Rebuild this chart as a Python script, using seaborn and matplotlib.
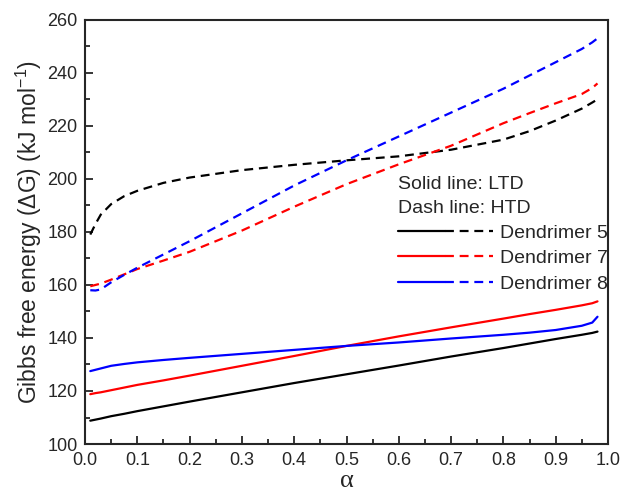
import pandas as pd
import matplotlib.pyplot as plt
import seaborn as sns
from matplotlib.lines import Line2D
from matplotlib.legend_handler import HandlerTuple
from matplotlib.ticker import MultipleLocator

# alpha grid and Gibbs free energy (kJ/mol)
alpha = [0.01, 0.02, 0.03, 0.05, 0.075, 0.1, 0.15, 0.2, 0.3, 0.4, 0.5,
         0.6, 0.7, 0.8, 0.85, 0.9, 0.95, 0.97, 0.98]

ltd_d5 = [108.8, 109.2, 109.6, 110.5, 111.4, 112.4, 114.2, 116.0, 119.5, 123.0, 126.3,
          129.6, 133.0, 136.2, 137.9, 139.6, 141.2, 141.9, 142.4]
ltd_d7 = [118.8, 119.2, 119.5, 120.3, 121.3, 122.3, 124.0, 125.8, 129.5, 133.2, 137.0,
          140.6, 144.0, 147.3, 149.0, 150.6, 152.3, 153.1, 153.8]
ltd_d8 = [127.5, 128.0, 128.5, 129.5, 130.2, 130.8, 131.7, 132.5, 134.0, 135.5, 137.0,
          138.3, 139.8, 141.2, 142.0, 143.0, 144.6, 145.8, 148.0]

htd_d5 = [179.0, 183.0, 186.5, 190.5, 193.5, 195.5, 198.5, 200.5, 203.3, 205.3, 207.0,
          208.5, 211.0, 214.8, 218.0, 222.0, 226.5, 228.8, 230.0]
htd_d7 = [159.5, 160.0, 160.5, 162.0, 164.0, 166.0, 169.2, 172.5, 180.5, 189.5, 198.0,
          205.5, 212.5, 221.0, 224.8, 228.5, 232.0, 234.3, 236.0]
htd_d8 = [158.0, 157.9, 158.3, 161.0, 163.8, 166.5, 171.5, 176.5, 187.0, 197.5, 207.0,
          216.0, 225.0, 234.0, 239.0, 244.0, 249.0, 251.5, 253.0]

names = ["Dendrimer 5", "Dendrimer 7", "Dendrimer 8"]
colors = ["black", "red", "blue"]

frames = []
for name, ltd, htd in zip(names, [ltd_d5, ltd_d7, ltd_d8], [htd_d5, htd_d7, htd_d8]):
    frames.append(pd.DataFrame({"alpha": alpha, "dG": ltd, "sample": name, "kind": "LTD"}))
    frames.append(pd.DataFrame({"alpha": alpha, "dG": htd, "sample": name, "kind": "HTD"}))
df = pd.concat(frames, ignore_index=True)

sns.set_style("ticks")
plt.rcParams["font.family"] = ["Liberation Sans", "DejaVu Sans"]
plt.rcParams["mathtext.fontset"] = "custom"
plt.rcParams["mathtext.rm"] = "Liberation Sans"

fig = plt.figure(figsize=(6.3, 4.95), dpi=100)
ax = fig.add_axes([0.135, 0.103, 0.83, 0.857])

sns.lineplot(data=df, x="alpha", y="dG", hue="sample", style="kind",
             palette=dict(zip(names, colors)),
             dashes={"LTD": "", "HTD": (4, 2.6)},
             linewidth=1.6, legend=False, ax=ax)

ax.set_xlim(0, 1.0)
ax.set_ylim(100, 260)
ax.xaxis.set_major_locator(MultipleLocator(0.1))
ax.xaxis.set_minor_locator(MultipleLocator(0.05))
ax.yaxis.set_major_locator(MultipleLocator(20))
ax.yaxis.set_minor_locator(MultipleLocator(10))
ax.tick_params(which="both", direction="in", top=False, right=False, labelsize=13,
               width=1.3, pad=5.5)
ax.tick_params(which="major", length=6)
ax.tick_params(which="minor", length=3.5)
for s in ax.spines.values():
    s.set_linewidth(1.5)

ax.set_xlabel("α", fontsize=19, family="Liberation Serif", labelpad=1)
ax.set_ylabel("Gibbs free energy (ΔG) (kJ mol$\\mathrm{^{-1}}$)", fontsize=16.5, labelpad=2)

ax.text(0.598, 0.611, "Solid line: LTD", transform=ax.transAxes, fontsize=14, va="center")
ax.text(0.598, 0.555, "Dash line: HTD", transform=ax.transAxes, fontsize=14, va="center")

handles = []
for c in colors:
    solid = Line2D([], [], color=c, lw=1.6)
    dash = Line2D([], [], color=c, lw=1.6, dashes=(4, 2.6))
    handles.append((solid, dash))
ax.legend(handles, names, handler_map={tuple: HandlerTuple(ndivide=None, pad=0)},
          loc="upper left", bbox_to_anchor=(0.598, 0.518), frameon=False, borderpad=0,
          borderaxespad=0, fontsize=14, handlelength=4.9, handletextpad=0.36,
          labelspacing=0.4)

plt.savefig("out.png", dpi=100)
plt.close()
